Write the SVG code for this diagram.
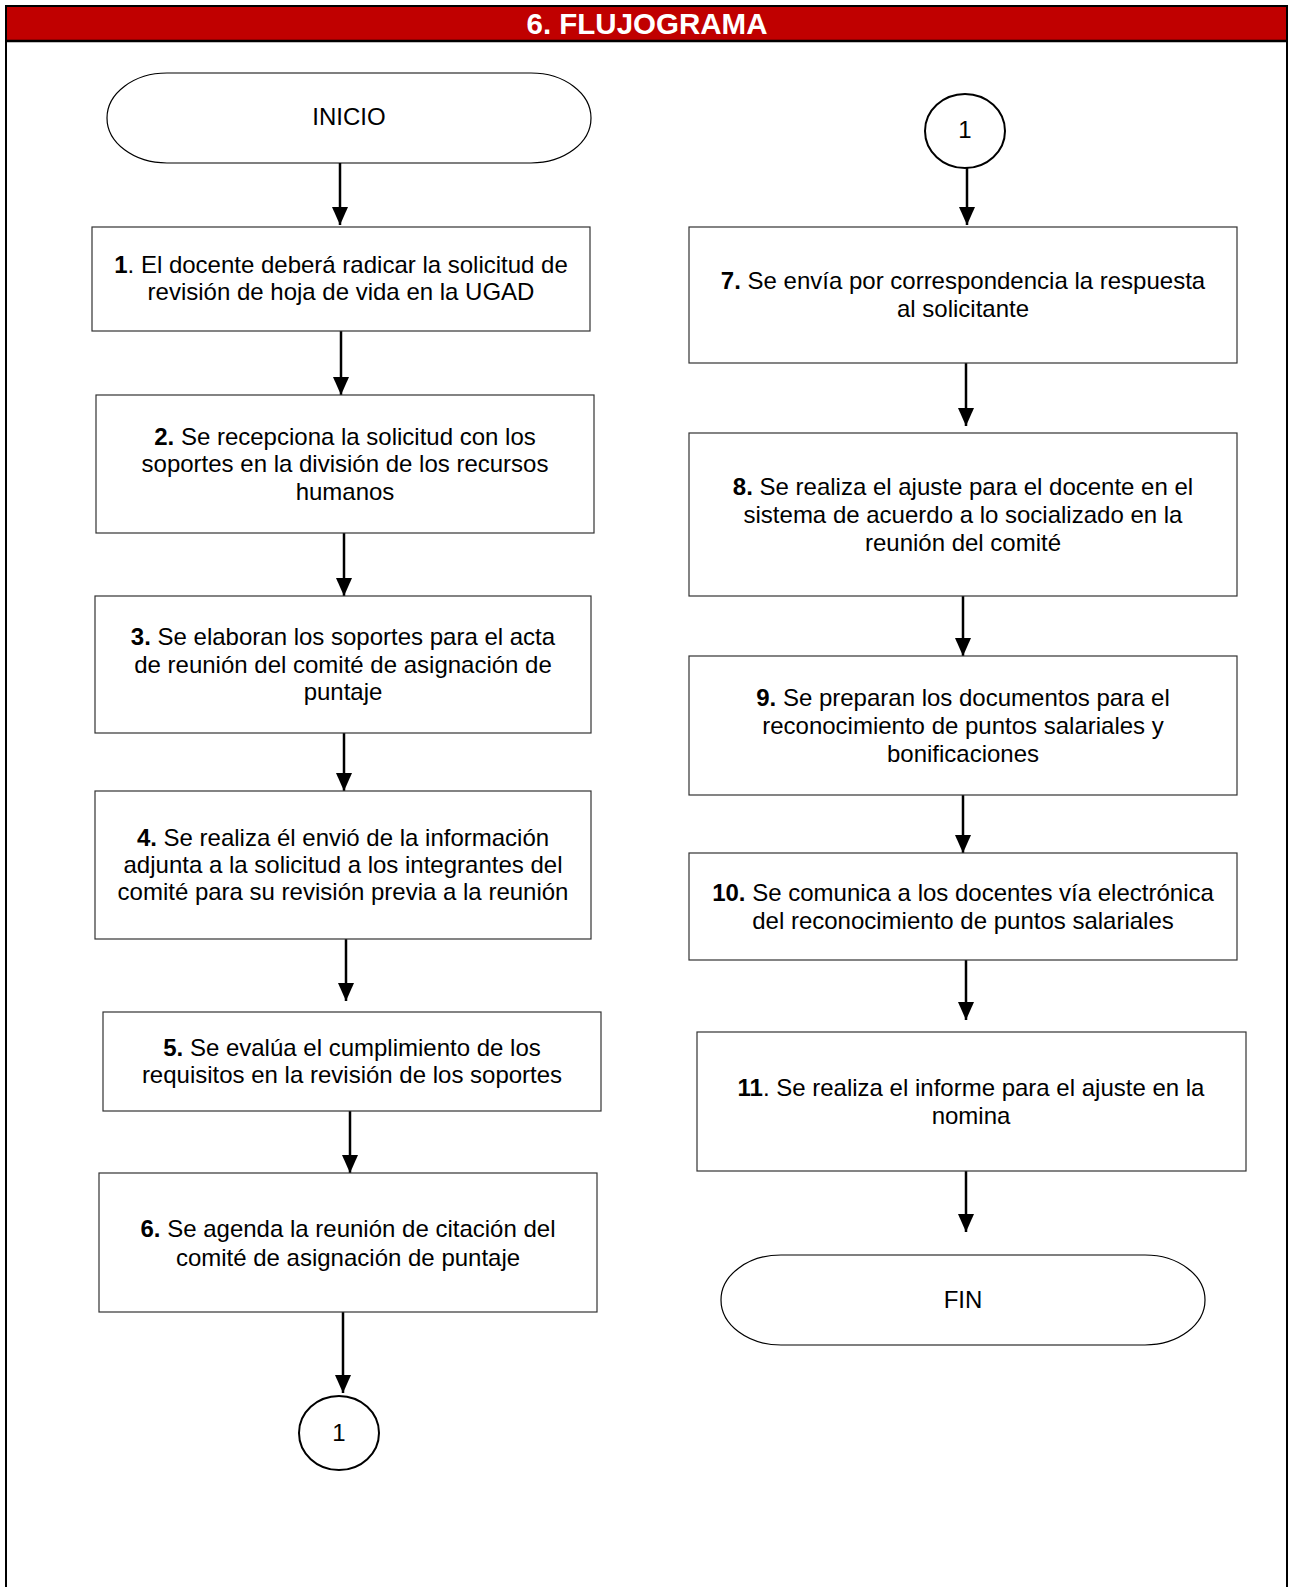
<svg xmlns="http://www.w3.org/2000/svg" width="1290" height="1587" viewBox="0 0 1290 1587">
<style>
.t{font-family:"Liberation Sans",Arial,sans-serif;font-size:24px;fill:#000;text-anchor:middle}
.b{font-weight:bold}
.box{fill:#fff;stroke:#333;stroke-width:1.2}
.term{fill:#fff;stroke:#000;stroke-width:1.2}
.circ{fill:#fff;stroke:#000;stroke-width:2}
.arr{stroke:#000;stroke-width:2.5;fill:none;marker-end:url(#ah)}
</style>
<defs>
<marker id="ah" markerUnits="userSpaceOnUse" markerWidth="18" markerHeight="16" refX="18" refY="8" orient="auto" viewBox="0 0 18 16">
<path d="M0,0 L18,8 L0,16 Z" fill="#000"/>
</marker>
</defs>
<rect x="0" y="0" width="1290" height="1587" fill="#fff"/>
<g id="frame">
<rect x="6" y="6" width="1281" height="35" fill="#c00000"/>
<rect x="6" y="6" width="1281" height="1590" fill="none" stroke="#000" stroke-width="2"/>
<line x1="6" y1="41" x2="1287" y2="41" stroke="#000" stroke-width="2.5"/>
<text x="647" y="34" class="t b" style="font-size:29.5px;fill:#fff">6. FLUJOGRAMA</text>
</g>
<g id="connectors">
<line class="arr" x1="340" y1="163" x2="340" y2="225"/>
<line class="arr" x1="341" y1="331" x2="341" y2="395"/>
<line class="arr" x1="344" y1="533" x2="344" y2="596"/>
<line class="arr" x1="344" y1="733" x2="344" y2="791"/>
<line class="arr" x1="346" y1="939" x2="346" y2="1001"/>
<line class="arr" x1="350" y1="1111" x2="350" y2="1173"/>
<line class="arr" x1="343" y1="1312" x2="343" y2="1393"/>
<line class="arr" x1="967" y1="168" x2="967" y2="225"/>
<line class="arr" x1="966" y1="363" x2="966" y2="426"/>
<line class="arr" x1="963" y1="596" x2="963" y2="656"/>
<line class="arr" x1="963" y1="795" x2="963" y2="853"/>
<line class="arr" x1="966" y1="960" x2="966" y2="1020"/>
<line class="arr" x1="966" y1="1171" x2="966" y2="1232"/>
</g>
<g id="inicio">
<rect class="term" x="107" y="73" width="484" height="90" rx="60" ry="45"/>
<text class="t" x="349" y="125">INICIO</text>
</g>
<g id="step1">
<rect class="box" x="92" y="227" width="498" height="104"/>
<text class="t" x="341" y="273"><tspan class="b">1</tspan>. El docente deberá radicar la solicitud de</text>
<text class="t" x="341" y="300">revisión de hoja de vida en la UGAD</text>
</g>
<g id="step2">
<rect class="box" x="96" y="395" width="498" height="138"/>
<text class="t" x="345" y="445"><tspan class="b">2.</tspan> Se recepciona la solicitud con los</text>
<text class="t" x="345" y="472">soportes en la división de los recursos</text>
<text class="t" x="345" y="500">humanos</text>
</g>
<g id="step3">
<rect class="box" x="95" y="596" width="496" height="137"/>
<text class="t" x="343" y="645"><tspan class="b">3.</tspan> Se elaboran los soportes para el acta</text>
<text class="t" x="343" y="673">de reunión del comité de asignación de</text>
<text class="t" x="343" y="700">puntaje</text>
</g>
<g id="step4">
<rect class="box" x="95" y="791" width="496" height="148"/>
<text class="t" x="343" y="846"><tspan class="b">4.</tspan> Se realiza él envió de la información</text>
<text class="t" x="343" y="873">adjunta a la solicitud a los integrantes del</text>
<text class="t" x="343" y="900">comité para su revisión previa a la reunión</text>
</g>
<g id="step5">
<rect class="box" x="103" y="1012" width="498" height="99"/>
<text class="t" x="352" y="1056"><tspan class="b">5.</tspan> Se evalúa el cumplimiento de los</text>
<text class="t" x="352" y="1083">requisitos en la revisión de los soportes</text>
</g>
<g id="step6">
<rect class="box" x="99" y="1173" width="498" height="139"/>
<text class="t" x="348" y="1237"><tspan class="b">6.</tspan> Se agenda la reunión de citación del</text>
<text class="t" x="348" y="1266">comité de asignación de puntaje</text>
</g>
<g id="conn-out">
<ellipse class="circ" cx="339" cy="1433" rx="40" ry="37"/>
<text class="t" x="339" y="1441">1</text>
</g>
<g id="conn-in">
<ellipse class="circ" cx="965" cy="131" rx="40" ry="37"/>
<text class="t" x="965" y="138">1</text>
</g>
<g id="step7">
<rect class="box" x="689" y="227" width="548" height="136"/>
<text class="t" x="963" y="289"><tspan class="b">7.</tspan> Se envía por correspondencia la respuesta</text>
<text class="t" x="963" y="317">al solicitante</text>
</g>
<g id="step8">
<rect class="box" x="689" y="433" width="548" height="163"/>
<text class="t" x="963" y="495"><tspan class="b">8.</tspan> Se realiza el ajuste para el docente en el</text>
<text class="t" x="963" y="523">sistema de acuerdo a lo socializado en la</text>
<text class="t" x="963" y="551">reunión del comité</text>
</g>
<g id="step9">
<rect class="box" x="689" y="656" width="548" height="139"/>
<text class="t" x="963" y="706"><tspan class="b">9.</tspan> Se preparan los documentos para el</text>
<text class="t" x="963" y="734">reconocimiento de puntos salariales y</text>
<text class="t" x="963" y="762">bonificaciones</text>
</g>
<g id="step10">
<rect class="box" x="689" y="853" width="548" height="107"/>
<text class="t" x="963" y="901"><tspan class="b">10.</tspan> Se comunica a los docentes vía electrónica</text>
<text class="t" x="963" y="929">del reconocimiento de puntos salariales</text>
</g>
<g id="step11">
<rect class="box" x="697" y="1032" width="549" height="139"/>
<text class="t" x="971" y="1096"><tspan class="b">11</tspan>. Se realiza el informe para el ajuste en la</text>
<text class="t" x="971" y="1124">nomina</text>
</g>
<g id="fin">
<rect class="term" x="721" y="1255" width="484" height="90" rx="60" ry="45"/>
<text class="t" x="963" y="1308">FIN</text>
</g>
</svg>
